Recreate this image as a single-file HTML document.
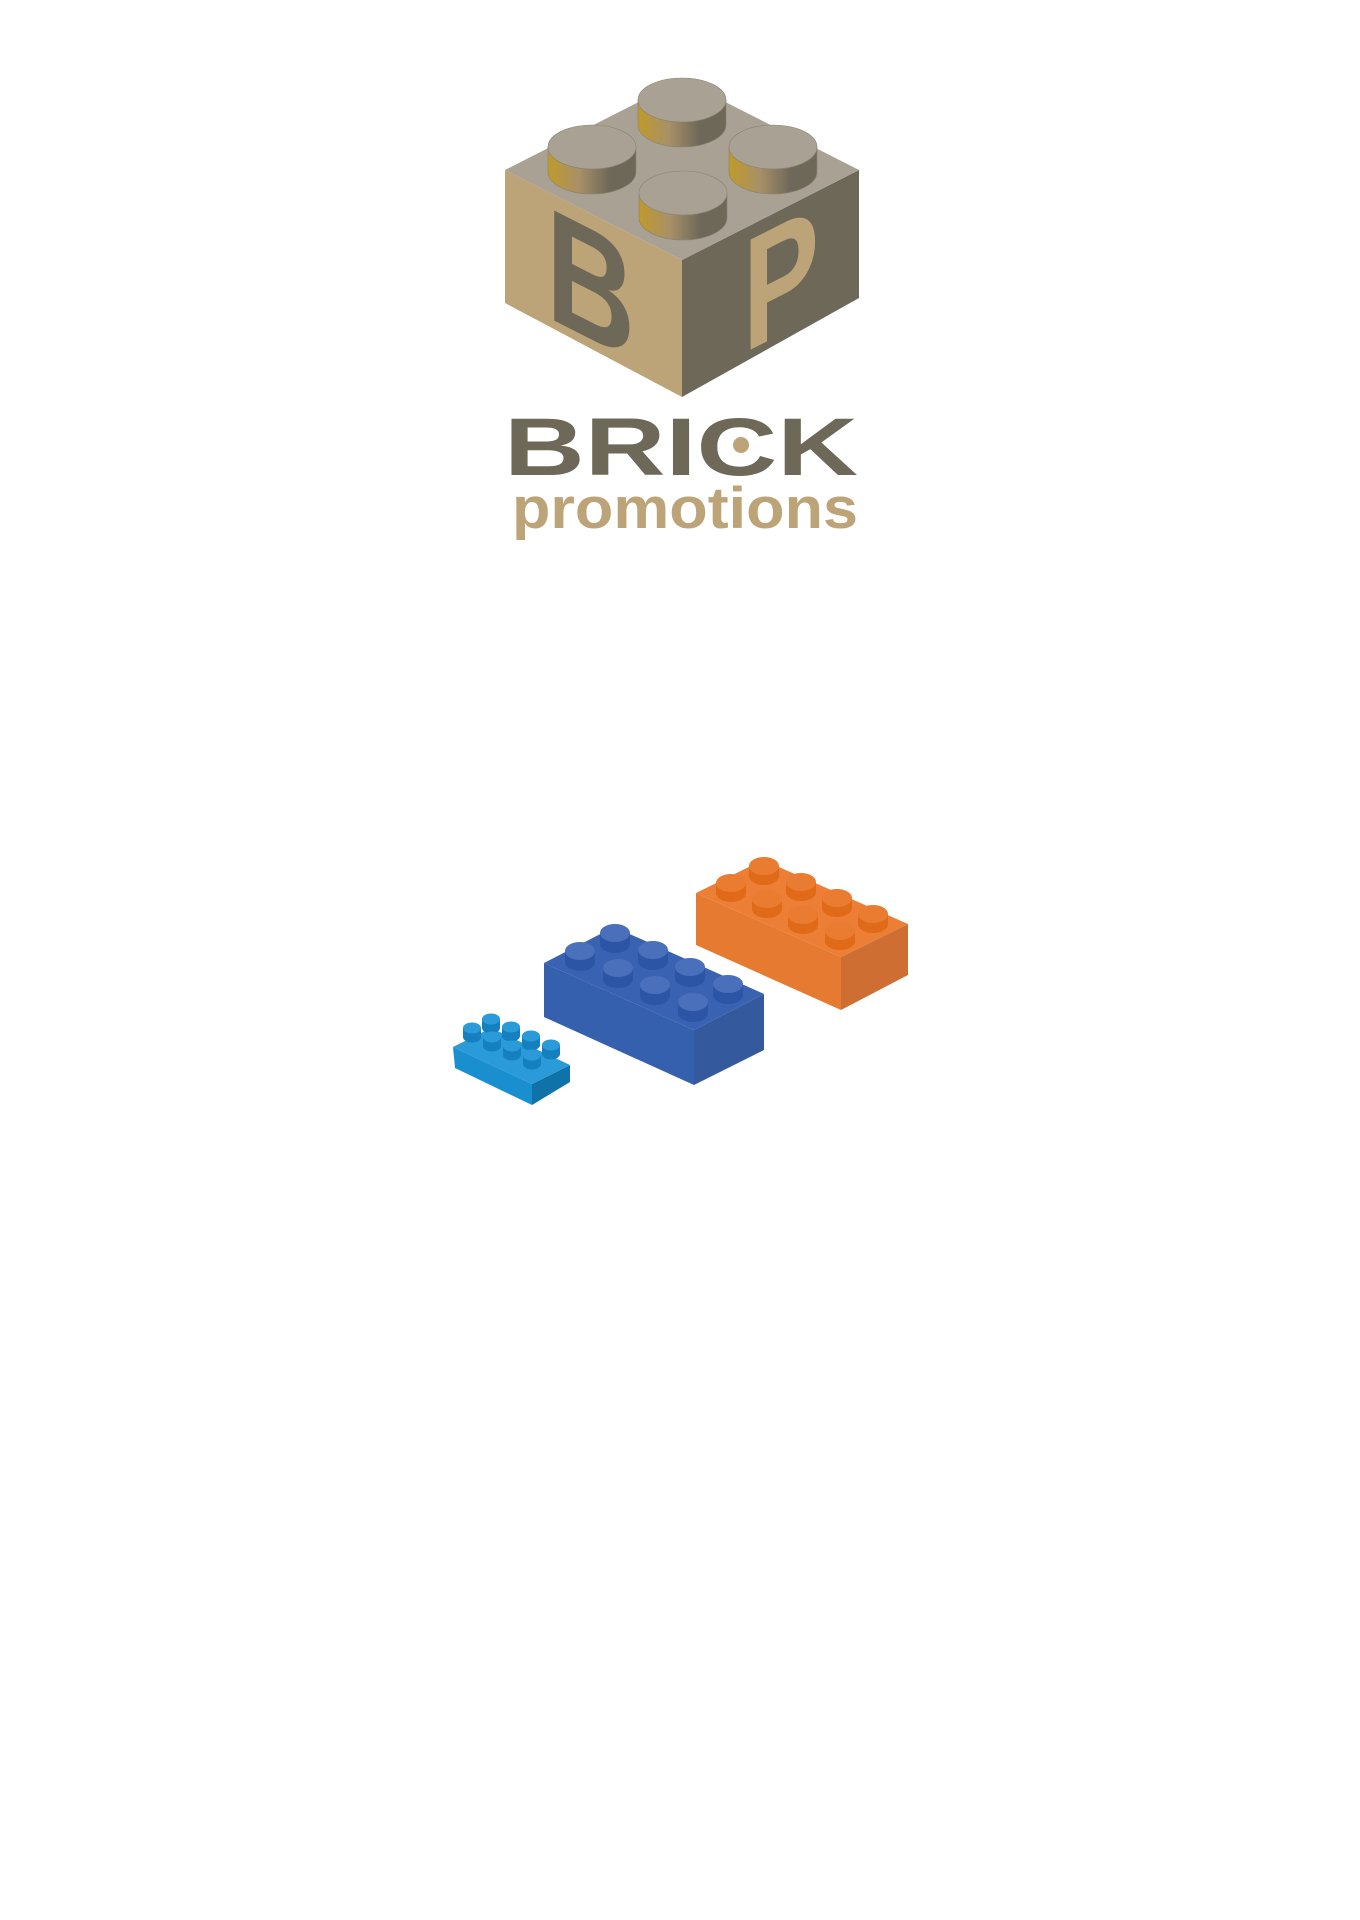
<!DOCTYPE html>
<html><head><meta charset="utf-8"><style>html,body{margin:0;padding:0;background:#fff}svg{display:block}</style></head>
<body>
<svg width="1360" height="1920" viewBox="0 0 1360 1920" xmlns="http://www.w3.org/2000/svg">
<defs>
<linearGradient id="gs" x1="0" x2="1" y1="0" y2="0">
<stop offset="0" stop-color="#bf9a2a"/><stop offset="0.35" stop-color="#a89068"/><stop offset="0.7" stop-color="#6e6858"/><stop offset="1" stop-color="#6e6858"/>
</linearGradient>
</defs>
<!-- logo cube -->
<polygon points="505,170 682,260 682,397 505,303" fill="#bca478"/>
<polygon points="682,260 859,170 859,298 682,397" fill="#6e6858"/>
<polygon points="505,170 682,80 859,170 682,260" fill="#a8a194"/>
<!-- B on left face -->
<g transform="matrix(1,0.508,0,1,0,0)">
<text x="546" y="39" font-family="Liberation Sans, sans-serif" font-weight="bold" font-size="160" fill="#6e6858" textLength="89" lengthAdjust="spacingAndGlyphs">B</text>
</g>
<!-- P on right face -->
<g transform="matrix(1,-0.508,0,1,0,0)">
<text x="743" y="731" font-family="Liberation Sans, sans-serif" font-weight="bold" font-size="160" fill="#bca478" textLength="76" lengthAdjust="spacingAndGlyphs">P</text>
</g>
<!-- logo studs -->
<g stroke="#8a8475" stroke-width="0.6">
<g><path d="M638,100 v25 a44,22 0 0 0 88,0 v-25 z" fill="url(#gs)"/><ellipse cx="682" cy="100" rx="44" ry="22" fill="#a8a194"/></g>
<g><path d="M548,147 v25 a44,22 0 0 0 88,0 v-25 z" fill="url(#gs)"/><ellipse cx="592" cy="147" rx="44" ry="22" fill="#a8a194"/></g>
<g><path d="M729,147 v25 a44,22 0 0 0 88,0 v-25 z" fill="url(#gs)"/><ellipse cx="773" cy="147" rx="44" ry="22" fill="#a8a194"/></g>
<g><path d="M639,193 v25 a44,22 0 0 0 88,0 v-25 z" fill="url(#gs)"/><ellipse cx="683" cy="193" rx="44" ry="22" fill="#a8a194"/></g>
</g>
<text x="504" y="475" font-family="Liberation Sans, sans-serif" font-weight="bold" font-size="82" fill="#6e6858" textLength="354" lengthAdjust="spacingAndGlyphs">BRICK</text>
<circle cx="741" cy="445" r="8" fill="#bca478"/>
<text x="512" y="528" font-family="Liberation Sans, sans-serif" font-weight="bold" font-size="58" fill="#bca478" textLength="346" lengthAdjust="spacingAndGlyphs">promotions</text>

<!-- orange brick -->
<polygon points="696,893 841,957 841,1010 696,945" fill="#e67a30"/>
<polygon points="841,957 908,924 908,975 841,1010" fill="#cf6e32"/>
<polygon points="696,893 763,860 908,924 841,957" fill="#ec7f35"/>
<g>
<path d="M749,866 v10 a15,9 0 0 0 30,0 v-10 z" fill="#e06a18"/><ellipse cx="764" cy="866" rx="15" ry="9" fill="#ea7c32"/>
<path d="M786,882 v10 a15,9 0 0 0 30,0 v-10 z" fill="#e06a18"/><ellipse cx="801" cy="882" rx="15" ry="9" fill="#ea7c32"/>
<path d="M716,883 v10 a15,9 0 0 0 30,0 v-10 z" fill="#e06a18"/><ellipse cx="731" cy="883" rx="15" ry="9" fill="#ea7c32"/>
<path d="M822,898 v10 a15,9 0 0 0 30,0 v-10 z" fill="#e06a18"/><ellipse cx="837" cy="898" rx="15" ry="9" fill="#ea7c32"/>
<path d="M752,899 v10 a15,9 0 0 0 30,0 v-10 z" fill="#e06a18"/><ellipse cx="767" cy="899" rx="15" ry="9" fill="#ea7c32"/>
<path d="M858,914 v10 a15,9 0 0 0 30,0 v-10 z" fill="#e06a18"/><ellipse cx="873" cy="914" rx="15" ry="9" fill="#ea7c32"/>
<path d="M788,915 v10 a15,9 0 0 0 30,0 v-10 z" fill="#e06a18"/><ellipse cx="803" cy="915" rx="15" ry="9" fill="#ea7c32"/>
<path d="M825,931 v10 a15,9 0 0 0 30,0 v-10 z" fill="#e06a18"/><ellipse cx="840" cy="931" rx="15" ry="9" fill="#ea7c32"/>
</g>

<!-- big blue brick -->
<polygon points="544,963 694,1030 694,1085 544,1017" fill="#3560ae"/>
<polygon points="694,1030 764,994 764,1050 694,1085" fill="#34599d"/>
<polygon points="544,963 614,927 764,994 694,1030" fill="#3a62b3"/>
<g>
<path d="M600,933 v11 a15,9 0 0 0 30,0 v-11 z" fill="#2c55a6"/><ellipse cx="615" cy="933" rx="15" ry="9" fill="#4a6fbb"/>
<path d="M638,950 v11 a15,9 0 0 0 30,0 v-11 z" fill="#2c55a6"/><ellipse cx="653" cy="950" rx="15" ry="9" fill="#4a6fbb"/>
<path d="M565,951 v11 a15,9 0 0 0 30,0 v-11 z" fill="#2c55a6"/><ellipse cx="580" cy="951" rx="15" ry="9" fill="#4a6fbb"/>
<path d="M675,967 v11 a15,9 0 0 0 30,0 v-11 z" fill="#2c55a6"/><ellipse cx="690" cy="967" rx="15" ry="9" fill="#4a6fbb"/>
<path d="M603,968 v11 a15,9 0 0 0 30,0 v-11 z" fill="#2c55a6"/><ellipse cx="618" cy="968" rx="15" ry="9" fill="#4a6fbb"/>
<path d="M713,984 v11 a15,9 0 0 0 30,0 v-11 z" fill="#2c55a6"/><ellipse cx="728" cy="984" rx="15" ry="9" fill="#4a6fbb"/>
<path d="M640,985 v11 a15,9 0 0 0 30,0 v-11 z" fill="#2c55a6"/><ellipse cx="655" cy="985" rx="15" ry="9" fill="#4a6fbb"/>
<path d="M678,1002 v11 a15,9 0 0 0 30,0 v-11 z" fill="#2c55a6"/><ellipse cx="693" cy="1002" rx="15" ry="9" fill="#4a6fbb"/>
</g>

<!-- small blue brick -->
<polygon points="453,1047 532,1084 532,1105 455,1068" fill="#1a8fd0"/>
<polygon points="532,1084 570,1065 570,1082 532,1105" fill="#0f72a8"/>
<polygon points="453,1047 491,1028 570,1065 532,1084" fill="#2a9ad8"/>
<g>
<path d="M482,1019 v9 a9,5.5 0 0 0 18,0 v-9 z" fill="#1580bf"/><ellipse cx="491" cy="1019" rx="9" ry="5.5" fill="#2a9ad8"/>
<path d="M502,1027 v9 a9,5.5 0 0 0 18,0 v-9 z" fill="#1580bf"/><ellipse cx="511" cy="1027" rx="9" ry="5.5" fill="#2a9ad8"/>
<path d="M463,1028 v9 a9,5.5 0 0 0 18,0 v-9 z" fill="#1580bf"/><ellipse cx="472" cy="1028" rx="9" ry="5.5" fill="#2a9ad8"/>
<path d="M522,1036 v9 a9,5.5 0 0 0 18,0 v-9 z" fill="#1580bf"/><ellipse cx="531" cy="1036" rx="9" ry="5.5" fill="#2a9ad8"/>
<path d="M483,1037 v9 a9,5.5 0 0 0 18,0 v-9 z" fill="#1580bf"/><ellipse cx="492" cy="1037" rx="9" ry="5.5" fill="#2a9ad8"/>
<path d="M542,1045 v9 a9,5.5 0 0 0 18,0 v-9 z" fill="#1580bf"/><ellipse cx="551" cy="1045" rx="9" ry="5.5" fill="#2a9ad8"/>
<path d="M503,1046 v9 a9,5.5 0 0 0 18,0 v-9 z" fill="#1580bf"/><ellipse cx="512" cy="1046" rx="9" ry="5.5" fill="#2a9ad8"/>
<path d="M523,1055 v9 a9,5.5 0 0 0 18,0 v-9 z" fill="#1580bf"/><ellipse cx="532" cy="1055" rx="9" ry="5.5" fill="#2a9ad8"/>
</g>
</svg>
</body></html>
